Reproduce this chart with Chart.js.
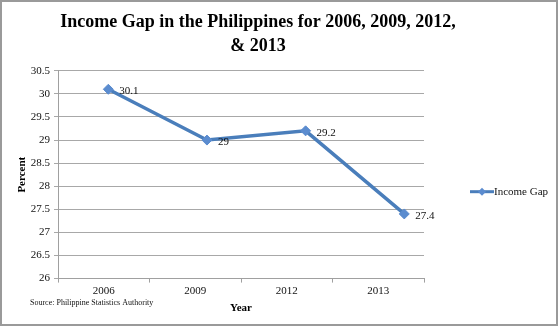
<!DOCTYPE html>
<html>
<head>
<meta charset="utf-8">
<script src="https://cdn.jsdelivr.net/npm/chart.js@4/dist/chart.umd.min.js"></script>
<style>
html,body{margin:0;padding:0;background:#fff;}
#wrap{width:559px;height:327px;position:relative;}
</style>
</head>
<body>
<div id="wrap"><canvas id="c" width="559" height="327"></canvas></div>
<script>
const categories = ['2006', '2009', '2012', '2013'];
const incomeGap = [30.1, 29.0, 29.2, 27.4];
const seriesName = 'Income Gap';
const titleLines = ['Income Gap in the Philippines for 2006, 2009, 2012,', '& 2013'];
const sourceText = 'Source: Philippine Statistics Authority';

const SERIF = "'Liberation Serif', 'DejaVu Serif', serif";
const LINE_COLOR = '#4a7ebb';
const POINT_COLOR = '#5b8ccf';

const points = incomeGap.map((v, i) => ({x: i, y: v}));

const decor = {
  id: 'decor',
  beforeDraw(chart) {
    const ctx = chart.ctx;
    ctx.save();
    ctx.fillStyle = '#fff';
    ctx.fillRect(0, 0, chart.width, chart.height);
    ctx.restore();
  },
  afterDatasetsDraw(chart) {
    const ctx = chart.ctx;
    const meta = chart.getDatasetMeta(0);
    ctx.save();
    ctx.font = '11px ' + SERIF;
    ctx.fillStyle = '#111';
    ctx.textAlign = 'left';
    ctx.textBaseline = 'middle';
    meta.data.forEach((pt, i) => {
      ctx.fillText(String(incomeGap[i]), pt.x + 11, pt.y + 2);
    });
    ctx.restore();
  },
  afterDraw(chart) {
    const ctx = chart.ctx;
    const ca = chart.chartArea;
    ctx.save();
    // legend
    const lx = ca.right + 46, ly = (ca.top + ca.bottom) / 2 + 17;
    ctx.strokeStyle = LINE_COLOR;
    ctx.lineWidth = 3;
    ctx.beginPath();
    ctx.moveTo(lx, ly);
    ctx.lineTo(lx + 24, ly);
    ctx.stroke();
    ctx.fillStyle = POINT_COLOR;
    ctx.beginPath();
    ctx.moveTo(lx + 12, ly - 4);
    ctx.lineTo(lx + 16, ly);
    ctx.lineTo(lx + 12, ly + 4);
    ctx.lineTo(lx + 8, ly);
    ctx.closePath();
    ctx.fill();
    ctx.font = '11px ' + SERIF;
    ctx.fillStyle = '#111';
    ctx.textAlign = 'left';
    ctx.textBaseline = 'middle';
    ctx.fillText(seriesName, lx + 24, ly);
    // source
    ctx.font = '8px ' + SERIF;
    ctx.fillText(sourceText, 30, 303);
    // outer border
    ctx.strokeStyle = '#9a9a9a';
    ctx.lineWidth = 2;
    ctx.strokeRect(1, 1, chart.width - 3, chart.height - 3);
    ctx.restore();
  }
};

new Chart(document.getElementById('c'), {
  type: 'line',
  data: {
    labels: categories,
    datasets: [{
      label: seriesName,
      data: points,
      xAxisID: 'xd',
      yAxisID: 'y',
      borderColor: LINE_COLOR,
      borderWidth: 3.5,
      backgroundColor: POINT_COLOR,
      pointStyle: 'rectRot',
      pointRadius: 5,
      pointBorderWidth: 1,
      pointBorderColor: POINT_COLOR,
      tension: 0
    }]
  },
  plugins: [decor],
  options: {
    responsive: false,
    animation: false,
    devicePixelRatio: 1,
    layout: {padding: {left: 0, right: 43, top: 0, bottom: 12}},
    plugins: {
      legend: {display: false},
      tooltip: {enabled: false},
      title: {
        display: true,
        text: titleLines,
        color: '#000',
        font: {family: SERIF, size: 18, weight: 'bold', lineHeight: 1.3},
        padding: {top: 11, bottom: 13}
      }
    },
    scales: {
      x: {
        type: 'category',
        labels: categories,
        offset: true,
        position: 'bottom',
        grid: {offset: true, drawOnChartArea: false, drawTicks: true, tickLength: 4, color: '#a0a0a0'},
        border: {color: '#a0a0a0', width: 1},
        ticks: {color: '#111', font: {family: SERIF, size: 11}, padding: 2},
        title: {display: true, text: 'Year', color: '#000', font: {family: SERIF, size: 11, weight: 'bold'}, padding: {top: 2, bottom: 0}}
      },
      xd: {
        type: 'linear',
        display: false,
        min: -0.51,
        max: 3.2
      },
      y: {
        min: 26,
        max: 30.5,
        ticks: {stepSize: 0.5, color: '#111', font: {family: SERIF, size: 11}, padding: 4,
          callback: (v) => String(Math.round(v * 10) / 10)},
        grid: {color: '#a8a8a8', tickLength: 4, lineWidth: 1},
        border: {color: '#a0a0a0', width: 1},
        title: {display: true, text: 'Percent', color: '#000', font: {family: SERIF, size: 11, weight: 'bold'}, padding: {top: 16, bottom: 0}},
        afterFit(scale) { scale.width = 58; }
      },
      yr: {
        position: 'right',
        display: true,
        grid: {drawOnChartArea: false, drawTicks: false},
        border: {display: false},
        ticks: {display: false},
        afterFit(scale) { scale.width = 92; }
      }
    }
  }
});
</script>
</body>
</html>
